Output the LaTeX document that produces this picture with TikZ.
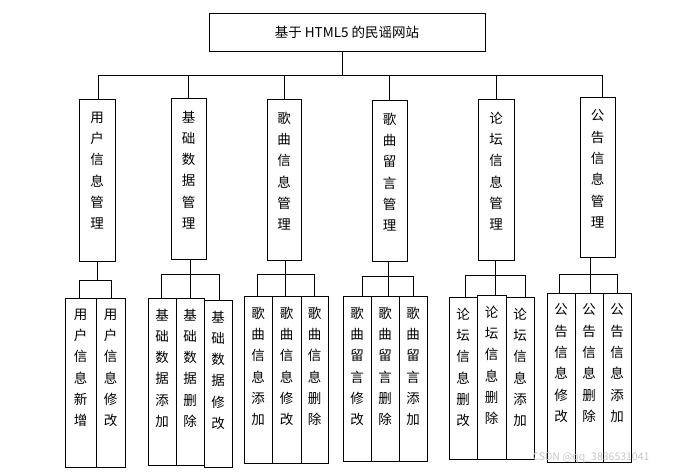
\documentclass[tikz,border=0pt]{standalone}
\usepackage{fontspec}
\newfontfamily\cjk{Noto Sans CJK SC}
\usetikzlibrary{calc}
\tikzset{
  box/.style={draw=black, line width=0.9pt, inner sep=0pt, fill=white},
  vtext/.style={font=\cjk\fontsize{13.5}{21.3}\selectfont, align=center, inner sep=0pt, anchor=north},
  conn/.style={draw=black, line width=0.9pt},
}
% #1 name, #2 x1, #3 y1, #4 x2, #5 y2, #6 text offset, #7 text
\newcommand\mybox[7]{%
  \node[box, minimum width={(#4-#2)*1pt}, minimum height={(#5-#3)*1pt}] (#1) at ({(#2+#4)/2},{(#3+#5)/2}) {};
  \node[vtext] (#1t) at ([yshift=-#6pt]#1.north) {#7};
}
\begin{document}
\begin{tikzpicture}[x=1pt,y=-1pt]
\useasboundingbox[fill=white] (0,0) rectangle (677,472);

% title
\node[box, minimum width=276pt, minimum height=38pt, font=\cjk\fontsize{13.5}{16}\selectfont] (top) at (347,32) {基于 HTML5 的民谣网站};

% level 2
\mybox{m1}{79}{99}{115}{261}{13}{用\\户\\信\\息\\管\\理}
\mybox{m2}{171}{98}{206}{259}{13}{基\\础\\数\\据\\管\\理}
\mybox{m3}{267}{99}{301}{260}{13}{歌\\曲\\信\\息\\管\\理}
\mybox{m4}{372}{100}{407}{261}{13}{歌\\曲\\留\\言\\管\\理}
\mybox{m5}{478}{99}{514}{260}{13}{论\\坛\\信\\息\\管\\理}
\mybox{m6}{580}{97}{615}{257}{13}{公\\告\\信\\息\\管\\理}

% top connectors
\coordinate (tj) at (342,75);
\coordinate (busL) at (98,75);
\coordinate (busR) at (602,75);
\draw[conn] (top.south -| tj) -- (tj);
\draw[conn] (busL) -- (busR);
\draw[conn] (busL) -- (busL |- m1.north);
\draw[conn] (m2.north |- busL) -- (m2.north);
\draw[conn] (m3.north |- busL) -- (m3.north);
\draw[conn] (m4.north |- busL) -- (m4.north);
\draw[conn] (m5.north |- busL) -- (m5.north);
\draw[conn] (busR) -- (busR |- m6.north);

% group 1
\mybox{a1}{65}{298}{96}{467}{11}{用\\户\\信\\息\\新\\增}
\mybox{a2}{96}{298}{125}{467}{11}{用\\户\\信\\息\\修\\改}
\coordinate (g1L) at (79,280); \coordinate (g1R) at (111,280); \coordinate (g1S) at (97,280);
\draw[conn] (m1.south -| g1S) -- (g1S);
\draw[conn] (g1L) -- (g1R);
\draw[conn] (g1L) -- (g1L |- a1.north);
\draw[conn] (g1R) -- (g1R |- a2.north);

% group 2
\mybox{b1}{148}{298}{176}{465}{11}{基\\础\\数\\据\\添\\加}
\mybox{b2}{176}{298}{204}{465}{11}{基\\础\\数\\据\\删\\除}
\mybox{b3}{204}{300}{232}{467}{11}{基\\础\\数\\据\\修\\改}
\coordinate (g2L) at (161,274); \coordinate (g2R) at (219,274); \coordinate (g2S) at (190,274);
\draw[conn] (m2.south -| g2S) -- (g2S |- b2.north);
\draw[conn] (g2L) -- (g2R);
\draw[conn] (g2L) -- (g2L |- b1.north);
\draw[conn] (g2R) -- (g2R |- b3.north);

% group 3
\mybox{c1}{244}{296}{272}{463}{11}{歌\\曲\\信\\息\\添\\加}
\mybox{c2}{272}{296}{301}{463}{11}{歌\\曲\\信\\息\\修\\改}
\mybox{c3}{301}{296}{328}{463}{11}{歌\\曲\\信\\息\\删\\除}
\coordinate (g3L) at (257,274); \coordinate (g3R) at (314,274); \coordinate (g3S) at (285,274);
\draw[conn] (m3.south -| g3S) -- (g3S |- c2.north);
\draw[conn] (g3L) -- (g3R);
\draw[conn] (g3L) -- (g3L |- c1.north);
\draw[conn] (g3R) -- (g3R |- c3.north);

% group 4
\mybox{d1}{343}{296}{371}{461}{11}{歌\\曲\\留\\言\\修\\改}
\mybox{d2}{371}{296}{399}{461}{11}{歌\\曲\\留\\言\\删\\除}
\mybox{d3}{399}{296}{427}{461}{11}{歌\\曲\\留\\言\\添\\加}
\coordinate (g4L) at (362,276); \coordinate (g4R) at (413,276); \coordinate (g4S) at (388,276);
\draw[conn] (m4.south -| g4S) -- (g4S |- d2.north);
\draw[conn] (g4L) -- (g4R);
\draw[conn] (g4L) -- (g4L |- d1.north);
\draw[conn] (g4R) -- (g4R |- d3.north);

% group 5
\mybox{e1}{449}{297}{477}{459}{11}{论\\坛\\信\\息\\删\\改}
\mybox{e2}{477}{295}{506}{459}{11}{论\\坛\\信\\息\\删\\除}
\mybox{e3}{506}{297}{534}{459}{11}{论\\坛\\信\\息\\添\\加}
\coordinate (g5L) at (465,275); \coordinate (g5R) at (525,275); \coordinate (g5S) at (495,275);
\draw[conn] (m5.south -| g5S) -- (g5S |- e2.north);
\draw[conn] (g5L) -- (g5R);
\draw[conn] (g5L) -- (g5L |- e1.north);
\draw[conn] (g5R) -- (g5R |- e3.north);

% group 6
\mybox{f1}{547}{293}{575}{462}{11}{公\\告\\信\\息\\修\\改}
\mybox{f2}{575}{293}{603}{462}{11}{公\\告\\信\\息\\删\\除}
\mybox{f3}{603}{293}{631}{462}{11}{公\\告\\信\\息\\添\\加}
\coordinate (g6L) at (559,274); \coordinate (g6R) at (617,274); \coordinate (g6S) at (590,274);
\draw[conn] (m6.south -| g6S) -- (g6S |- f2.north);
\draw[conn] (g6L) -- (g6R);
\draw[conn] (g6L) -- (g6L |- f1.north);
\draw[conn] (g6R) -- (g6R |- f3.north);

% watermark
\node[font=\cjk\fontsize{10.5}{12}\selectfont, text=black!22, inner sep=0pt] (wm) at (591,458) {CSDN @qq\_3836531041};
\end{tikzpicture}
\end{document}
